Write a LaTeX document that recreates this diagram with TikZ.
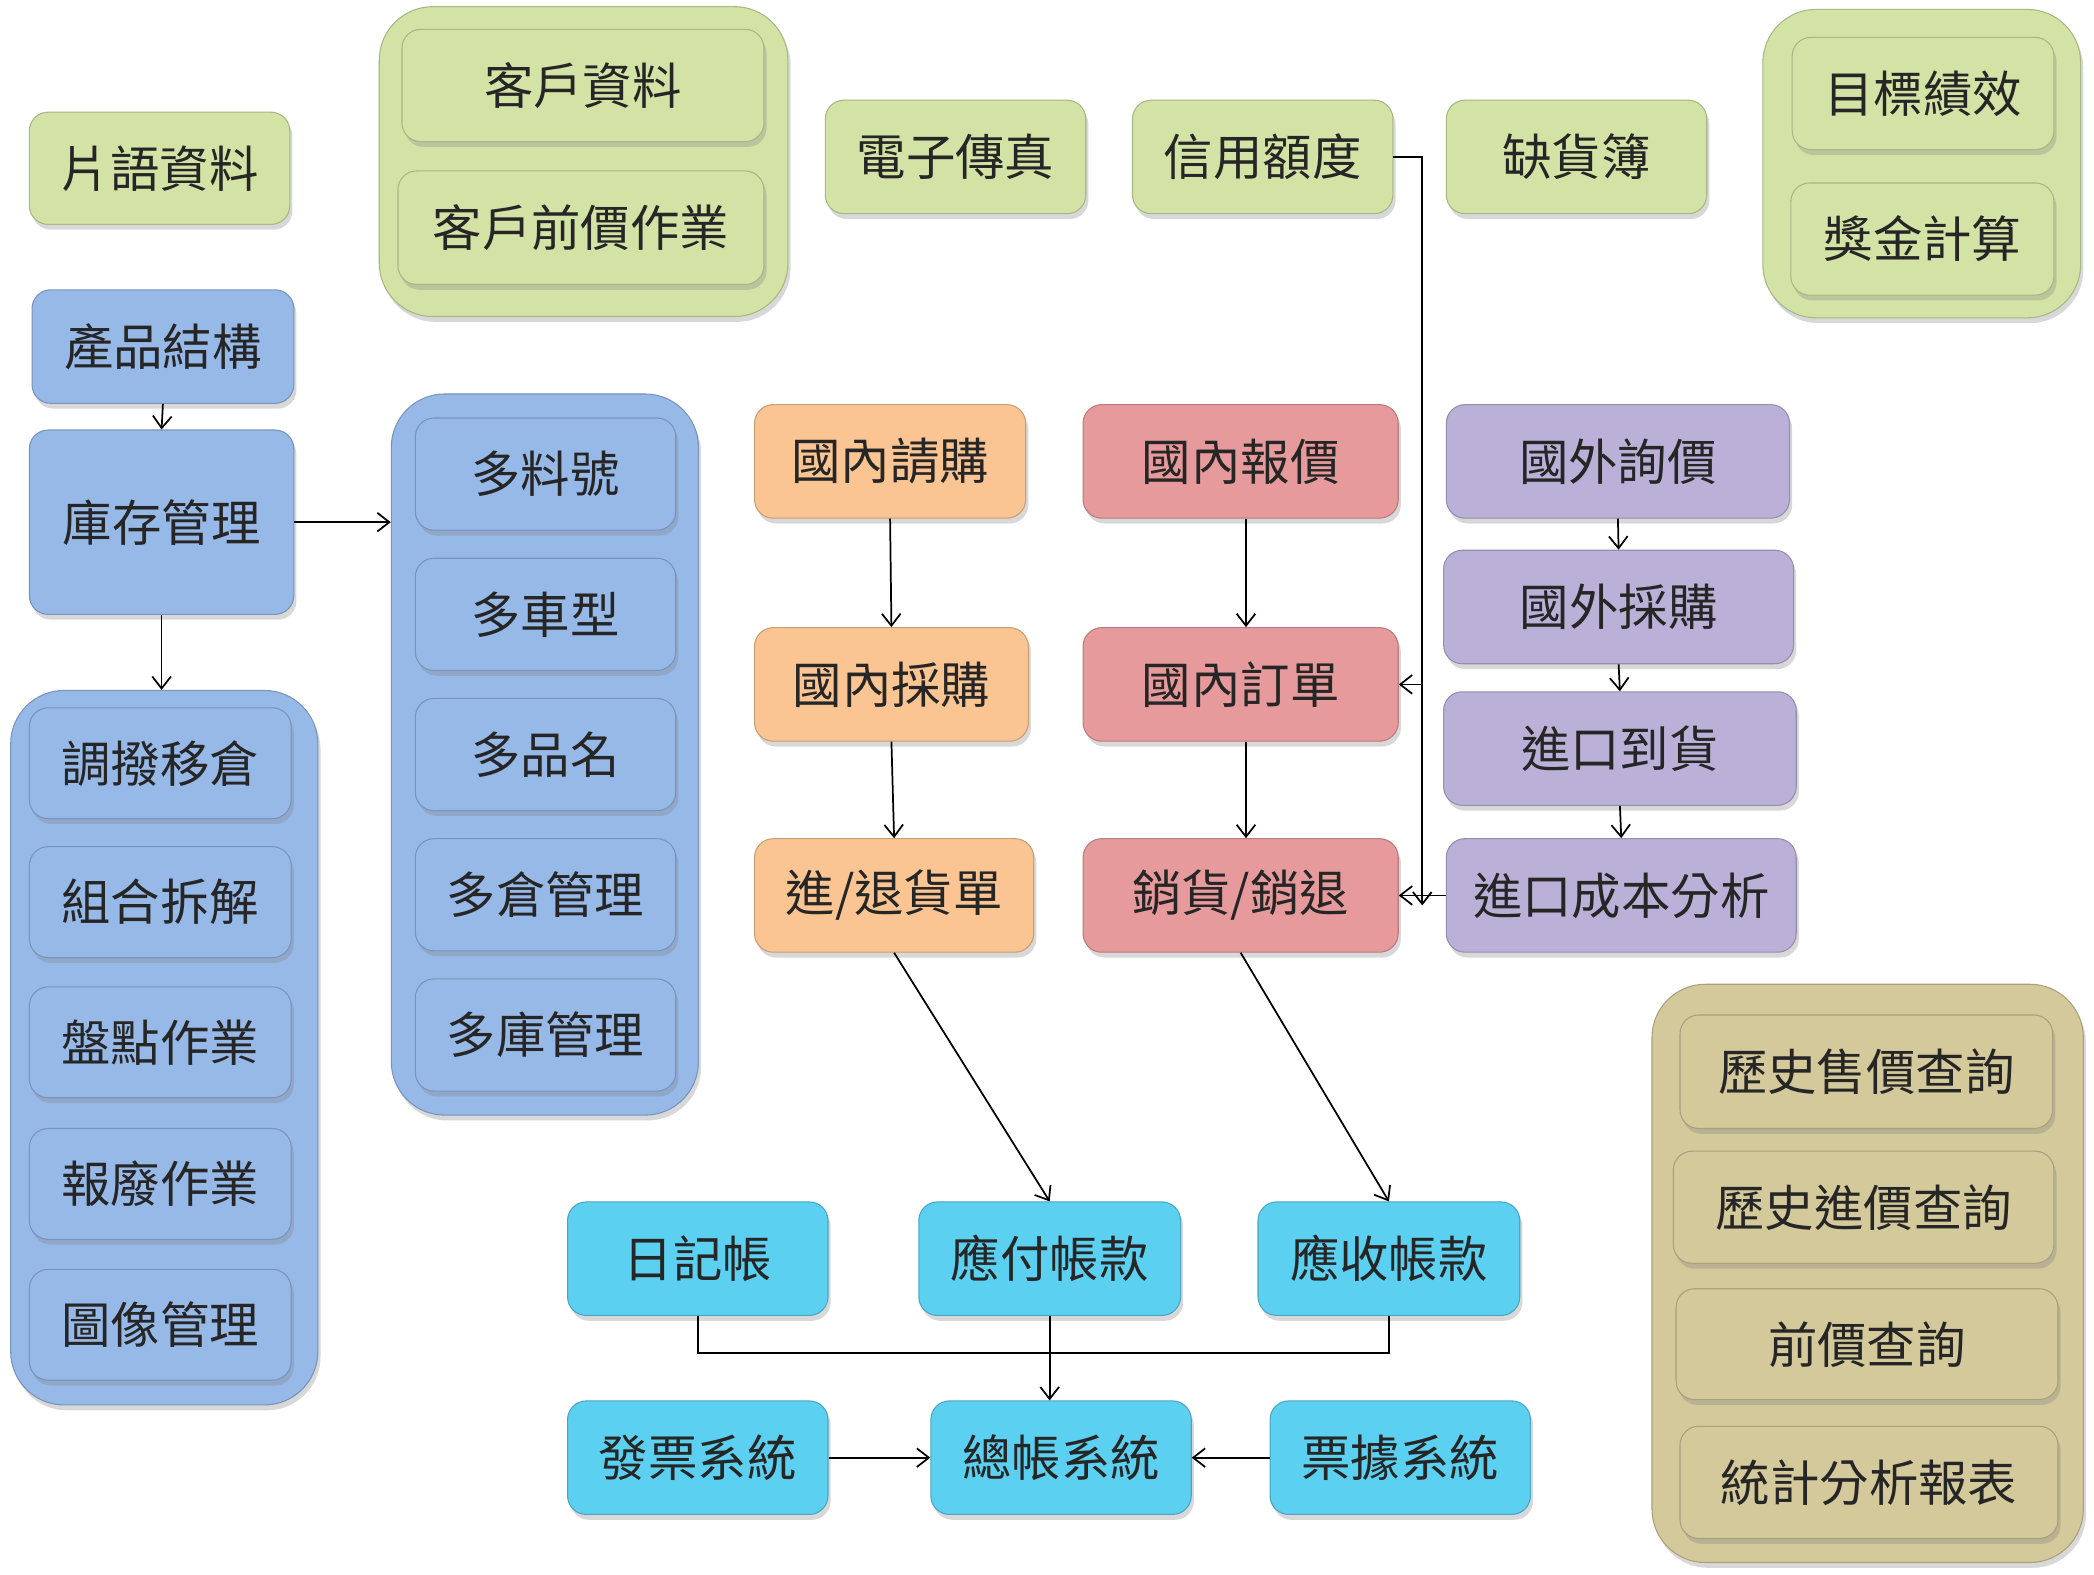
\documentclass[tikz,border=0pt]{standalone}
\usepackage{fontspec}
\newfontfamily\cjk{Noto Sans CJK TC}
\usetikzlibrary{arrows.meta,shadows}
\definecolor{cgreen}{HTML}{D3E3A6}
\definecolor{cblue}{HTML}{97B9E8}
\definecolor{corange}{HTML}{FAC592}
\definecolor{cred}{HTML}{E79A9B}
\definecolor{cpurple}{HTML}{BBB0D7}
\definecolor{ccyan}{HTML}{5CD0F0}
\definecolor{ctan}{HTML}{D3C99B}
\tikzset{
  bx/.style={rounded corners=14pt, fill=#1, draw=#1!80!black, line width=0.8pt,
    drop shadow={shadow xshift=2pt,shadow yshift=-4pt,opacity=0.3},
    font=\cjk\fontsize{37}{42}\selectfont, text=black!85, inner sep=0pt},
  ctr/.style={rounded corners=40pt, fill=#1, draw=#1!80!black, line width=0.8pt,
    drop shadow={shadow xshift=2pt,shadow yshift=-4pt,opacity=0.3}, inner sep=0pt},
  arr/.style={-{Straight Barb[length=9pt,width=14pt]}, line width=1.3pt},
  ln/.style={line width=1.3pt}
}
\newcommand\mybox[7]{\node[bx=#2, minimum width=#5pt, minimum height=#6pt] (#1) at (#3,#4) {#7};}
\newcommand\mycont[6]{\node[ctr=#2, minimum width=#5pt, minimum height=#6pt] (#1) at (#3,#4) {};}
\begin{document}
\begin{tikzpicture}[x=1pt,y=-1pt]
\useasboundingbox[fill=white] (0,0) rectangle (1568,1179);
% green top
\mybox{pianyu}{cgreen}{119.5}{126}{195}{84}{片語資料}
\mycont{gc1}{cgreen}{437}{121}{306}{232}
\mybox{kehu}{cgreen}{436.5}{64}{271}{84}{客戶資料}
\mybox{kehuqian}{cgreen}{435}{170.5}{274}{85}{客戶前價作業}
\mybox{fax}{cgreen}{715.5}{117.5}{195}{85}{電子傳真}
\mybox{credit}{cgreen}{945.5}{117.5}{195}{85}{信用額度}
\mybox{short}{cgreen}{1180.5}{117.5}{195}{85}{缺貨簿}
\mycont{gc2}{cgreen}{1439}{122.5}{238}{231}
\mybox{target}{cgreen}{1440}{70}{196}{84}{目標績效}
\mybox{bonus}{cgreen}{1439.5}{179}{197}{84}{獎金計算}
% blue left
\mybox{prod}{cblue}{122}{259.5}{196}{85}{產品結構}
\mybox{inv}{cblue}{121}{391}{198}{138}{庫存管理}
\mycont{lc}{cblue}{123}{784.5}{230}{535}
\mybox{l1}{cblue}{120}{571.5}{196}{83}{調撥移倉}
\mybox{l2}{cblue}{120}{675.5}{196}{83}{組合拆解}
\mybox{l3}{cblue}{120}{780.5}{196}{83}{盤點作業}
\mybox{l4}{cblue}{120}{886.5}{196}{83}{報廢作業}
\mybox{l5}{cblue}{120}{992}{196}{83}{圖像管理}
\mycont{mc}{cblue}{408}{565}{230}{540}
\mybox{m1}{cblue}{408.5}{355}{195}{84}{多料號}
\mybox{m2}{cblue}{408.5}{460}{195}{84}{多車型}
\mybox{m3}{cblue}{408.5}{565}{195}{84}{多品名}
\mybox{m4}{cblue}{408.5}{670}{195}{84}{多倉管理}
\mybox{m5}{cblue}{408.5}{775}{195}{84}{多庫管理}
% orange
\mybox{o1}{corange}{666.5}{345.5}{203}{85}{國內請購}
\mybox{o2}{corange}{667.5}{512.5}{205}{85}{國內採購}
\mybox{o3}{corange}{669.5}{670.5}{209}{85}{進/退貨單}
% red
\mybox{r1}{cred}{929}{345.5}{236}{85}{國內報價}
\mybox{r2}{cred}{929}{512.5}{236}{85}{國內訂單}
\mybox{r3}{cred}{929}{670.5}{236}{85}{銷貨/銷退}
% purple
\mybox{p1}{cpurple}{1211.5}{345.5}{257}{85}{國外詢價}
\mybox{p2}{cpurple}{1212}{454.5}{262}{85}{國外採購}
\mybox{p3}{cpurple}{1213}{560.5}{264}{85}{進口到貨}
\mybox{p4}{cpurple}{1214}{670.5}{262}{85}{進口成本分析}
% cyan
\mybox{jr}{ccyan}{522.5}{942.5}{195}{85}{日記帳}
\mybox{ap}{ccyan}{786}{942.5}{196}{85}{應付帳款}
\mybox{ar}{ccyan}{1040}{942.5}{196}{85}{應收帳款}
\mybox{inv2}{ccyan}{522.5}{1091.5}{195}{85}{發票系統}
\mybox{gl}{ccyan}{794.5}{1091.5}{195}{85}{總帳系統}
\mybox{bill}{ccyan}{1048.5}{1091.5}{195}{85}{票據系統}
% tan
\mycont{tc}{ctan}{1398.5}{953.5}{323}{433}
\mybox{t1}{ctan}{1397.5}{802.5}{279}{85}{歷史售價查詢}
\mybox{t2}{ctan}{1395.5}{904}{285}{84}{歷史進價查詢}
\mybox{t3}{ctan}{1398}{1006.5}{286}{83}{前價查詢}
\mybox{t4}{ctan}{1399.5}{1110}{283}{84}{統計分析報表}
% connectors
\draw[arr] (prod.south) -- (inv.north);
\draw[arr] (inv.east) -- (inv.east -| mc.west);
\draw[arr] (inv.south) -- (inv.south |- lc.north);
\draw[arr] (o1.south) -- (o2.north);
\draw[arr] (o2.south) -- (o3.north);
\draw[arr] ([xshift=4pt]r1.south) -- ([xshift=4pt]r2.north);
\draw[arr] ([xshift=4pt]r2.south) -- ([xshift=4pt]r3.north);
\draw[arr] (p1.south) -- (p2.north);
\draw[arr] (p2.south) -- (p3.north);
\draw[arr] (p3.south) -- (p4.north);
\coordinate (cend) at (1065,678);
\draw[arr] (credit.east) -| (cend);
\draw[arr] (r2.east -| cend) -- (r2.east);
\draw[arr] (p4.west) -- (r3.east);
\draw[arr] (o3.south) -- (ap.north);
\draw[arr] (r3.south) -- (ar.north);
\coordinate (bus) at (786,1013);
\draw[ln] (jr.south) |- (bus) -| (ar.south);
\draw[arr] (ap.south) -- (ap.south |- gl.north);
\draw[arr] (inv2.east) -- (gl.west);
\draw[arr] (bill.west) -- (gl.east);
\end{tikzpicture}
\end{document}
